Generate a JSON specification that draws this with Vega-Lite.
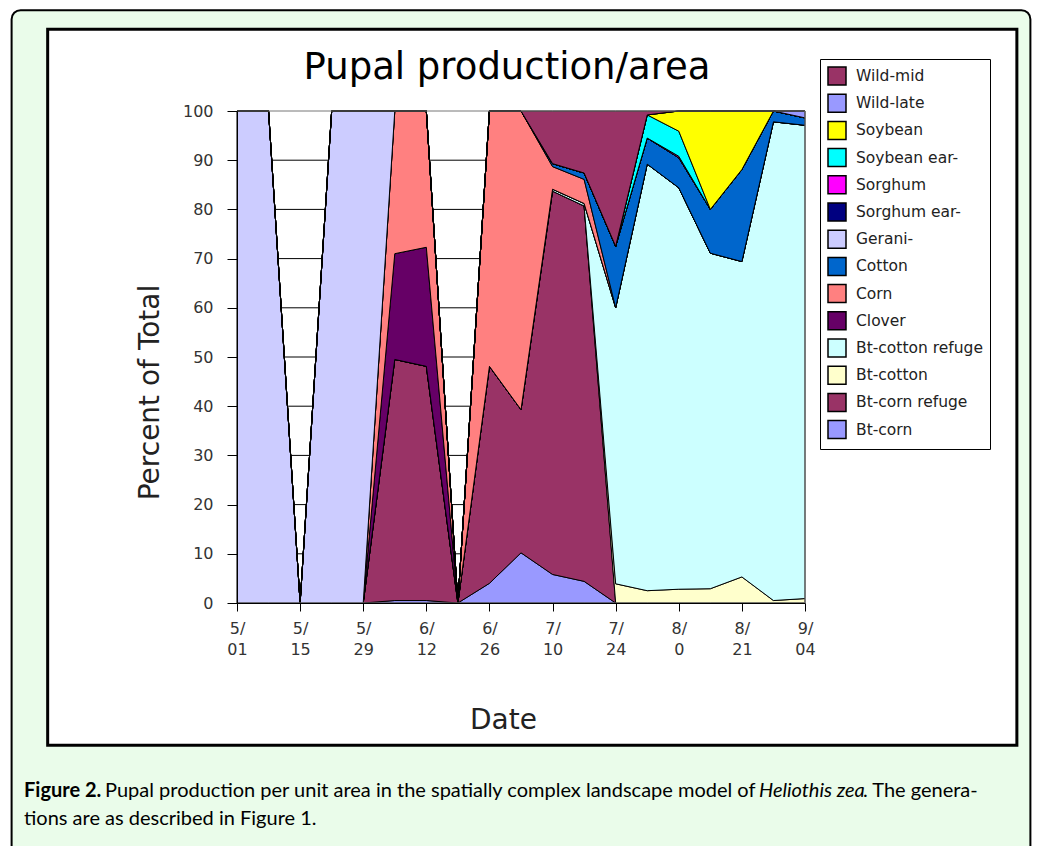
{
  "$schema": "https://vega.github.io/schema/vega-lite/v6.json",
  "width": 568,
  "height": 492,
  "autosize": {"type": "none"},
  "padding": {"left": 237, "top": 111, "right": 232, "bottom": 243},
  "background": "white",
  "config": {"view": {"stroke": null}, "axis": {"zindex": 1}},
  "datasets": {
    "pupae": [
      {"date": "2007-05-01", "Bt-corn": 0, "Bt-corn refuge": 0, "Bt-cotton": 0, "Bt-cotton refuge": 0, "Clover": 0, "Corn": 0, "Cotton": 0, "Gerani-": 100, "Sorghum ear-": 0, "Sorghum": 0, "Soybean ear-": 0, "Soybean": 0, "Wild-late": 0, "Wild-mid": 0},
      {"date": "2007-05-08", "Bt-corn": 0, "Bt-corn refuge": 0, "Bt-cotton": 0, "Bt-cotton refuge": 0, "Clover": 0, "Corn": 0, "Cotton": 0, "Gerani-": 100, "Sorghum ear-": 0, "Sorghum": 0, "Soybean ear-": 0, "Soybean": 0, "Wild-late": 0, "Wild-mid": 0},
      {"date": "2007-05-15", "Bt-corn": 0, "Bt-corn refuge": 0, "Bt-cotton": 0, "Bt-cotton refuge": 0, "Clover": 0, "Corn": 0, "Cotton": 0, "Gerani-": 0, "Sorghum ear-": 0, "Sorghum": 0, "Soybean ear-": 0, "Soybean": 0, "Wild-late": 0, "Wild-mid": 0},
      {"date": "2007-05-22", "Bt-corn": 0, "Bt-corn refuge": 0, "Bt-cotton": 0, "Bt-cotton refuge": 0, "Clover": 0, "Corn": 0, "Cotton": 0, "Gerani-": 100, "Sorghum ear-": 0, "Sorghum": 0, "Soybean ear-": 0, "Soybean": 0, "Wild-late": 0, "Wild-mid": 0},
      {"date": "2007-05-29", "Bt-corn": 0, "Bt-corn refuge": 0, "Bt-cotton": 0, "Bt-cotton refuge": 0, "Clover": 0, "Corn": 0, "Cotton": 0, "Gerani-": 100, "Sorghum ear-": 0, "Sorghum": 0, "Soybean ear-": 0, "Soybean": 0, "Wild-late": 0, "Wild-mid": 0},
      {"date": "2007-06-05", "Bt-corn": 0.5, "Bt-corn refuge": 49.0, "Bt-cotton": 0, "Bt-cotton refuge": 0, "Clover": 21.5, "Corn": 29.0, "Cotton": 0, "Gerani-": 0, "Sorghum ear-": 0, "Sorghum": 0, "Soybean ear-": 0, "Soybean": 0, "Wild-late": 0, "Wild-mid": 0},
      {"date": "2007-06-12", "Bt-corn": 0.5, "Bt-corn refuge": 47.6, "Bt-cotton": 0, "Bt-cotton refuge": 0, "Clover": 24.2, "Corn": 27.7, "Cotton": 0, "Gerani-": 0, "Sorghum ear-": 0, "Sorghum": 0, "Soybean ear-": 0, "Soybean": 0, "Wild-late": 0, "Wild-mid": 0},
      {"date": "2007-06-19", "Bt-corn": 0, "Bt-corn refuge": 0, "Bt-cotton": 0, "Bt-cotton refuge": 0, "Clover": 0, "Corn": 0, "Cotton": 0, "Gerani-": 0, "Sorghum ear-": 0, "Sorghum": 0, "Soybean ear-": 0, "Soybean": 0, "Wild-late": 0, "Wild-mid": 0},
      {"date": "2007-06-26", "Bt-corn": 4.0, "Bt-corn refuge": 44.1, "Bt-cotton": 0, "Bt-cotton refuge": 0, "Clover": 0, "Corn": 51.9, "Cotton": 0, "Gerani-": 0, "Sorghum ear-": 0, "Sorghum": 0, "Soybean ear-": 0, "Soybean": 0, "Wild-late": 0, "Wild-mid": 0},
      {"date": "2007-07-03", "Bt-corn": 10.2, "Bt-corn refuge": 29.1, "Bt-cotton": 0, "Bt-cotton refuge": 0, "Clover": 0, "Corn": 60.7, "Cotton": 0, "Gerani-": 0, "Sorghum ear-": 0, "Sorghum": 0, "Soybean ear-": 0, "Soybean": 0, "Wild-late": 0, "Wild-mid": 0},
      {"date": "2007-07-10", "Bt-corn": 5.8, "Bt-corn refuge": 77.9, "Bt-cotton": 0, "Bt-cotton refuge": 0.4, "Clover": 0, "Corn": 4.6, "Cotton": 0.6, "Gerani-": 0, "Sorghum ear-": 0, "Sorghum": 0, "Soybean ear-": 0, "Soybean": 0, "Wild-late": 0, "Wild-mid": 10.7},
      {"date": "2007-07-17", "Bt-corn": 4.4, "Bt-corn refuge": 76.3, "Bt-cotton": 0, "Bt-cotton refuge": 0.5, "Clover": 0, "Corn": 4.9, "Cotton": 1.3, "Gerani-": 0, "Sorghum ear-": 0, "Sorghum": 0, "Soybean ear-": 0, "Soybean": 0, "Wild-late": 0, "Wild-mid": 12.6},
      {"date": "2007-07-24", "Bt-corn": 0, "Bt-corn refuge": 0, "Bt-cotton": 3.9, "Bt-cotton refuge": 56.1, "Clover": 0, "Corn": 0, "Cotton": 12.5, "Gerani-": 0, "Sorghum ear-": 0, "Sorghum": 0, "Soybean ear-": 0, "Soybean": 0, "Wild-late": 0, "Wild-mid": 27.5},
      {"date": "2007-07-31", "Bt-corn": 0, "Bt-corn refuge": 0, "Bt-cotton": 2.5, "Bt-cotton refuge": 86.7, "Clover": 0, "Corn": 0, "Cotton": 5.3, "Gerani-": 0, "Sorghum ear-": 0, "Sorghum": 0, "Soybean ear-": 4.7, "Soybean": 0, "Wild-late": 0, "Wild-mid": 0.8},
      {"date": "2007-08-07", "Bt-corn": 0, "Bt-corn refuge": 0, "Bt-cotton": 2.8, "Bt-cotton refuge": 81.6, "Clover": 0, "Corn": 0, "Cotton": 6.1, "Gerani-": 0, "Sorghum ear-": 0, "Sorghum": 0.3, "Soybean ear-": 5.1, "Soybean": 4.1, "Wild-late": 0, "Wild-mid": 0},
      {"date": "2007-08-14", "Bt-corn": 0, "Bt-corn refuge": 0, "Bt-cotton": 2.9, "Bt-cotton refuge": 68.2, "Clover": 0, "Corn": 0, "Cotton": 8.9, "Gerani-": 0, "Sorghum ear-": 0, "Sorghum": 0, "Soybean ear-": 0, "Soybean": 20.0, "Wild-late": 0, "Wild-mid": 0},
      {"date": "2007-08-21", "Bt-corn": 0, "Bt-corn refuge": 0, "Bt-cotton": 5.3, "Bt-cotton refuge": 64.1, "Clover": 0, "Corn": 0, "Cotton": 18.7, "Gerani-": 0, "Sorghum ear-": 0, "Sorghum": 0, "Soybean ear-": 0, "Soybean": 11.9, "Wild-late": 0, "Wild-mid": 0},
      {"date": "2007-08-28", "Bt-corn": 0, "Bt-corn refuge": 0, "Bt-cotton": 0.5, "Bt-cotton refuge": 97.3, "Clover": 0, "Corn": 0, "Cotton": 2.2, "Gerani-": 0, "Sorghum ear-": 0, "Sorghum": 0, "Soybean ear-": 0, "Soybean": 0, "Wild-late": 0, "Wild-mid": 0},
      {"date": "2007-09-04", "Bt-corn": 0, "Bt-corn refuge": 0, "Bt-cotton": 0.9, "Bt-cotton refuge": 96.2, "Clover": 0, "Corn": 0, "Cotton": 1.5, "Gerani-": 0, "Sorghum ear-": 0, "Sorghum": 0, "Soybean ear-": 0, "Soybean": 0, "Wild-late": 1.4, "Wild-mid": 0}
    ],
    "crops": [
      {"crop": "Bt-corn", "stackRank": 1},
      {"crop": "Bt-corn refuge", "stackRank": 2},
      {"crop": "Bt-cotton", "stackRank": 3},
      {"crop": "Bt-cotton refuge", "stackRank": 4},
      {"crop": "Clover", "stackRank": 5},
      {"crop": "Corn", "stackRank": 6},
      {"crop": "Cotton", "stackRank": 7},
      {"crop": "Gerani-", "stackRank": 8},
      {"crop": "Sorghum ear-", "stackRank": 9},
      {"crop": "Sorghum", "stackRank": 10},
      {"crop": "Soybean ear-", "stackRank": 11},
      {"crop": "Soybean", "stackRank": 12},
      {"crop": "Wild-late", "stackRank": 13},
      {"crop": "Wild-mid", "stackRank": 14}
    ],
    "gridLevels": [
      {"level": 10}, {"level": 20}, {"level": 30}, {"level": 40}, {"level": 50},
      {"level": 60}, {"level": 70}, {"level": 80}, {"level": 90}
    ]
  },
  "layer": [
    {
      "data": {"values": [{}]},
      "mark": {"type": "rect", "color": "#eafcea", "stroke": "black", "strokeWidth": 2, "cornerRadius": 9},
      "encoding": {
        "x": {"datum": 1173657600000, "type": "temporal"},
        "x2": {"datum": 1193184000000},
        "y": {"datum": 120.5, "type": "quantitative"},
        "y2": {"datum": -53}
      }
    },
    {
      "data": {"values": [{}]},
      "mark": {"type": "rect", "color": "white", "stroke": "black", "strokeWidth": 3},
      "encoding": {
        "x": {"datum": 1174348800000, "type": "temporal"},
        "x2": {"datum": 1192924800000},
        "y": {"datum": 116.6, "type": "quantitative"},
        "y2": {"datum": -28.9}
      }
    },
    {
      "data": {"name": "gridLevels"},
      "mark": {"type": "rule", "color": "black", "strokeWidth": 1},
      "encoding": {"y": {"field": "level", "type": "quantitative"}}
    },
    {
      "data": {"name": "pupae"},
      "transform": [
        {"fold": ["Bt-corn", "Bt-corn refuge", "Bt-cotton", "Bt-cotton refuge", "Clover", "Corn", "Cotton", "Gerani-", "Sorghum ear-", "Sorghum", "Soybean ear-", "Soybean", "Wild-late", "Wild-mid"], "as": ["crop", "percent"]},
        {"lookup": "crop", "from": {"data": {"name": "crops"}, "key": "crop", "fields": ["stackRank"]}}
      ],
      "mark": {"type": "area", "stroke": "black", "strokeWidth": 1, "opacity": 1, "interpolate": "linear"},
      "encoding": {
        "x": {
          "field": "date", "type": "temporal",
          "scale": {"type": "utc", "nice": false, "domain": [1177977600000, 1188864000000]},
          "axis": {
            "zindex": 1,
            "values": [1177977600000, 1178582400000, 1179187200000, 1179792000000, 1180396800000, 1181001600000, 1181606400000, 1182211200000, 1182816000000, 1183420800000, 1184025600000, 1184630400000, 1185235200000, 1185840000000, 1186444800000, 1187049600000, 1187654400000, 1188259200000, 1188864000000],
            "labelExpr": "(round((datum.value - 1177977600000) / 604800000) % 2 == 0) ? [utcFormat(datum.value, '%-m') + '/', (utcmonth(datum.value) == 7 && utcdate(datum.value) == 7) ? '0' : utcFormat(datum.value, '%d')] : ''",
            "grid": false,
            "domainColor": "black",
            "tickColor": "black",
            "tickSize": 8,
            "labelAngle": 0,
            "labelAlign": "center",
            "labelBaseline": "top",
            "labelFont": "DejaVu Sans",
            "labelFontSize": 16,
            "labelLineHeight": 21,
            "labelColor": "#333333",
            "labelPadding": 9,
            "labelOverlap": false,
            "labelFlush": false,
            "title": "Date",
            "titleFont": "DejaVu Sans",
            "titleFontSize": 28,
            "titleFontWeight": "normal",
            "titleColor": "#222222",
            "titleBaseline": "middle",
            "titleX": 266,
            "titleY": 117
          }
        },
        "y": {
          "field": "percent", "type": "quantitative", "stack": "zero",
          "scale": {"domain": [0, 100], "nice": false, "zero": true},
          "axis": {
            "zindex": 1,
            "values": [0, 10, 20, 30, 40, 50, 60, 70, 80, 90, 100],
            "grid": false,
            "domainColor": "black",
            "tickColor": "black",
            "tickSize": 10,
            "labelFont": "DejaVu Sans",
            "labelFontSize": 16,
            "labelColor": "#333333",
            "labelPadding": 14,
            "title": "Percent of Total",
            "titleFont": "DejaVu Sans",
            "titleFontSize": 28,
            "titleFontWeight": "normal",
            "titleColor": "#222222",
            "titleBaseline": "middle",
            "titleX": -87,
            "titleY": 281
          }
        },
        "color": {
          "field": "crop", "type": "nominal",
          "scale": {
            "domain": ["Wild-mid", "Wild-late", "Soybean", "Soybean ear-", "Sorghum", "Sorghum ear-", "Gerani-", "Cotton", "Corn", "Clover", "Bt-cotton refuge", "Bt-cotton", "Bt-corn refuge", "Bt-corn"],
            "range": ["#993366", "#9999ff", "#ffff00", "#00ffff", "#ff00ff", "#000080", "#ccccff", "#0066cc", "#ff8080", "#660066", "#ccffff", "#ffffcc", "#993366", "#9999ff"]
          },
          "legend": {
            "title": null,
            "orient": "none",
            "legendX": 583,
            "legendY": -52,
            "symbolType": "square",
            "symbolSize": 324,
            "symbolStrokeColor": "black",
            "symbolStrokeWidth": 1.5,
            "labelFont": "DejaVu Sans",
            "labelFontSize": 15.5,
            "labelColor": "#222222",
            "labelOffset": 9,
            "labelLimit": 300,
            "rowPadding": 3.2,
            "padding": 7,
            "strokeColor": "black",
            "fillColor": "white"
          }
        },
        "order": {"field": "stackRank", "type": "quantitative", "sort": "ascending"}
      }
    },
    {
      "data": {"values": [{}]},
      "mark": {"type": "rect", "filled": false, "color": "#777777", "strokeWidth": 1},
      "encoding": {
        "x": {"datum": 1177977600000, "type": "temporal"},
        "x2": {"datum": 1188864000000},
        "y": {"datum": 100, "type": "quantitative"},
        "y2": {"datum": 0}
      }
    },
    {
      "data": {"values": [{}]},
      "mark": {"type": "text", "text": "Pupal production/area", "font": "DejaVu Sans", "fontSize": 37, "align": "center", "baseline": "alphabetic", "color": "black"},
      "encoding": {
        "x": {"datum": 1183152960000, "type": "temporal"},
        "y": {"datum": 106.5, "type": "quantitative"}
      }
    },
    {
      "data": {"values": [{}]},
      "mark": {"type": "text", "text": "Figure 2.", "font": "Lato", "fontSize": 20, "fontWeight": "bold", "align": "left", "baseline": "alphabetic", "color": "black"},
      "encoding": {
        "x": {"datum": 1173895200000, "type": "temporal"},
        "y": {"datum": -39.43, "type": "quantitative"}
      }
    },
    {
      "data": {"values": [{}]},
      "mark": {"type": "text", "text": "Pupal production per unit area in the spatially complex landscape model of", "font": "Lato", "fontSize": 20, "align": "left", "baseline": "alphabetic", "color": "black"},
      "encoding": {
        "x": {"datum": 1175447664000, "type": "temporal"},
        "y": {"datum": -39.43, "type": "quantitative"}
      }
    },
    {
      "data": {"values": [{}]},
      "mark": {"type": "text", "text": "Heliothis zea", "font": "Lato", "fontSize": 20, "fontStyle": "italic", "align": "left", "baseline": "alphabetic", "color": "black"},
      "encoding": {
        "x": {"datum": 1187982346000, "type": "temporal"},
        "y": {"datum": -39.43, "type": "quantitative"}
      }
    },
    {
      "data": {"values": [{}]},
      "mark": {"type": "text", "text": ". The genera-", "font": "Lato", "fontSize": 20, "align": "left", "baseline": "alphabetic", "color": "black"},
      "encoding": {
        "x": {"datum": 1189975629000, "type": "temporal"},
        "y": {"datum": -39.43, "type": "quantitative"}
      }
    },
    {
      "data": {"values": [{}]},
      "mark": {"type": "text", "text": "tions are as described in Figure 1.", "font": "Lato", "fontSize": 20, "align": "left", "baseline": "alphabetic", "color": "black"},
      "encoding": {
        "x": {"datum": 1173895200000, "type": "temporal"},
        "y": {"datum": -45.12, "type": "quantitative"}
      }
    }
  ]
}
